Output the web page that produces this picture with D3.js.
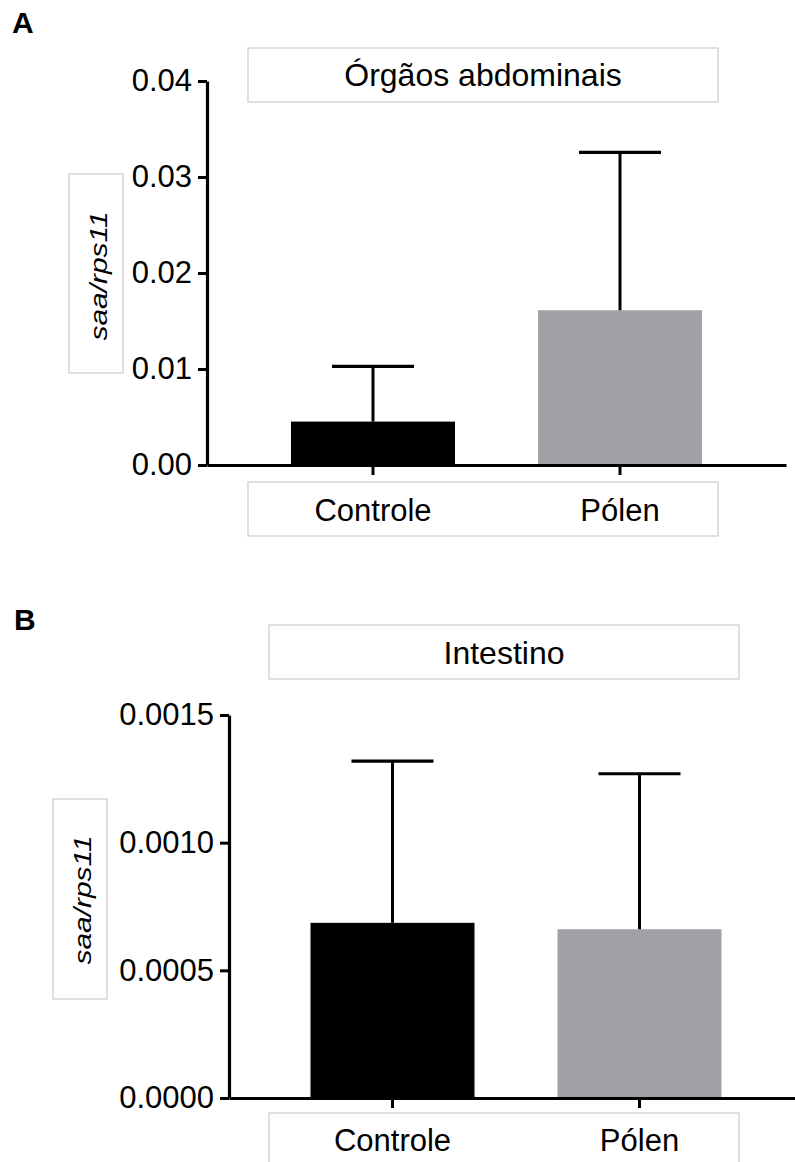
<!DOCTYPE html>
<html>
<head>
<meta charset="utf-8">
<script src="https://cdn.jsdelivr.net/npm/d3@7"></script>
<style>
  html, body { margin: 0; padding: 0; background: #fff; }
  svg { display: block; }
  text { font-family: "Liberation Sans", Arial, Helvetica, sans-serif; fill: #000; }
</style>
</head>
<body>
<svg id="fig" width="795" height="1162"></svg>
<script>
// Groups shown in both panels
const groups = ["Controle", "Pólen"];
const barColors = ["#000000", "#a1a0a5"];

// Panel A: abdominal organs, mean and upper error (mean + SD)
const abdMeans = [0.00452, 0.01612];
const abdErrTop = [0.01027, 0.03257];
const abdTicks = [0, 0.01, 0.02, 0.03, 0.04];

// Panel B: intestine
const intMeans = [0.000686, 0.000661];
const intErrTop = [0.001319, 0.001270];
const intTicks = [0, 0.0005, 0.0010, 0.0015];

const svg = d3.select("#fig");

function panel(cfg) {
  const g = svg.append("g");

  // panel letter
  g.append("text")
    .attr("x", cfg.letterX).attr("y", cfg.letterY)
    .attr("font-size", 30).attr("font-weight", "bold")
    .text(cfg.letter);

  // title box
  g.append("rect")
    .attr("x", cfg.titleBox[0]).attr("y", cfg.titleBox[1])
    .attr("width", cfg.titleBox[2]).attr("height", cfg.titleBox[3])
    .attr("fill", "none").attr("stroke", "#cccccc").attr("stroke-width", 1.2);
  g.append("text")
    .attr("x", cfg.titleBox[0] + cfg.titleBox[2] / 2)
    .attr("y", cfg.titleBaseline)
    .attr("text-anchor", "middle")
    .attr("font-size", cfg.titleSize)
    .text(cfg.title);

  // y-axis label box
  g.append("rect")
    .attr("x", cfg.yLabBox[0]).attr("y", cfg.yLabBox[1])
    .attr("width", cfg.yLabBox[2]).attr("height", cfg.yLabBox[3])
    .attr("fill", "none").attr("stroke", "#cccccc").attr("stroke-width", 1.2);
  g.append("text")
    .attr("transform", `translate(${cfg.yLabX},${cfg.yLabY}) rotate(-90) scale(1.3,1)`)
    .attr("text-anchor", "middle")
    .attr("font-size", 23)
    .attr("font-style", "italic")
    .text("saa/rps11");

  // x-axis label box
  g.append("rect")
    .attr("x", cfg.xLabBox[0]).attr("y", cfg.xLabBox[1])
    .attr("width", cfg.xLabBox[2]).attr("height", cfg.xLabBox[3])
    .attr("fill", "none").attr("stroke", "#cccccc").attr("stroke-width", 1.2);

  const x = d3.scaleBand()
    .domain(groups)
    .range([cfg.axisX, cfg.xEnd])
    .paddingInner(0.336)
    .paddingOuter(cfg.padOuter);

  const y = d3.scaleLinear()
    .domain(cfg.domain)
    .range([cfg.axisY, cfg.topY]);

  const data = groups.map((k, i) => ({ key: k, mean: cfg.means[i], top: cfg.errTop[i], color: barColors[i] }));

  // bars
  g.selectAll("rect.bar").data(data).enter().append("rect")
    .attr("class", "bar")
    .attr("x", d => x(d.key))
    .attr("width", x.bandwidth())
    .attr("y", d => y(d.mean))
    .attr("height", d => y(0) - y(d.mean))
    .attr("fill", d => d.color);

  // error bars (upper only)
  const cap = 82;
  const eb = g.selectAll("g.err").data(data).enter().append("g").attr("class", "err");
  eb.append("line")
    .attr("x1", d => x(d.key) + x.bandwidth() / 2)
    .attr("x2", d => x(d.key) + x.bandwidth() / 2)
    .attr("y1", d => y(d.mean))
    .attr("y2", d => y(d.top))
    .attr("stroke", "#000").attr("stroke-width", 3);
  eb.append("line")
    .attr("x1", d => x(d.key) + x.bandwidth() / 2 - cap / 2)
    .attr("x2", d => x(d.key) + x.bandwidth() / 2 + cap / 2)
    .attr("y1", d => y(d.top))
    .attr("y2", d => y(d.top))
    .attr("stroke", "#000").attr("stroke-width", 3.2);

  // y axis
  const ya = g.append("g")
    .attr("transform", `translate(${cfg.axisX},0)`)
    .call(d3.axisLeft(y).tickValues(cfg.ticks).tickFormat(d3.format(cfg.fmt))
      .tickSize(9).tickSizeOuter(0).tickPadding(6));
  ya.select(".domain").attr("stroke", "#000").attr("stroke-width", 3.2);
  ya.selectAll(".tick line").attr("stroke", "#000").attr("stroke-width", 3);
  ya.selectAll(".tick text")
    .attr("font-size", 31)
    .attr("font-family", "'Liberation Sans', Arial, sans-serif")
    .attr("fill", "#000");

  // x axis
  const xa = g.append("g")
    .attr("transform", `translate(0,${cfg.axisY})`)
    .call(d3.axisBottom(x).tickSize(10).tickSizeOuter(0));
  xa.select(".domain").attr("stroke", "#000").attr("stroke-width", 3.2);
  xa.selectAll(".tick line").attr("stroke", "#000").attr("stroke-width", 3);
  xa.selectAll(".tick text")
    .attr("y", cfg.catBaseline)
    .attr("dy", 0)
    .attr("font-size", 31)
    .attr("font-family", "'Liberation Sans', Arial, sans-serif")
    .attr("fill", "#000");
}

panel({
  letter: "A", letterX: 12, letterY: 33,
  title: "Órgãos abdominais", titleSize: 32,
  titleBox: [248, 48, 470, 54], titleBaseline: 86,
  yLabBox: [69, 174, 54, 199], yLabX: 107, yLabY: 276,
  xLabBox: [248, 482, 470, 54],
  axisX: 207, xEnd: 786, padOuter: 0.34,
  axisY: 465, topY: 81,
  domain: [0, 0.04], ticks: abdTicks, fmt: ".2f",
  means: abdMeans, errTop: abdErrTop,
  catBaseline: 56
});

panel({
  letter: "B", letterX: 14, letterY: 630,
  title: "Intestino", titleSize: 32,
  titleBox: [269, 625, 470, 54], titleBaseline: 664,
  yLabBox: [53, 799, 54, 200], yLabX: 91, yLabY: 900,
  xLabBox: [269, 1113, 470, 60],
  axisX: 229, xEnd: 803, padOuter: 0.33,
  axisY: 1098, topY: 715,
  domain: [0, 0.0015], ticks: intTicks, fmt: ".4f",
  means: intMeans, errTop: intErrTop,
  catBaseline: 53
});
</script>
</body>
</html>
